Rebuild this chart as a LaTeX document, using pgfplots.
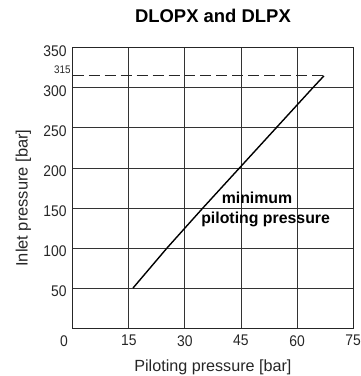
\documentclass[border=0pt]{standalone}
\usepackage{fontspec}
\setmainfont{Liberation Sans}
\newfontfamily\tickfont{Liberation Sans}[FakeStretch=0.9]
\usepackage{pgfplots}
\pgfplotsset{compat=1.18}

\begin{document}
\begin{tikzpicture}[x=1pt,y=1pt]
\useasboundingbox (-73,-48) rectangle (288,329);
\begin{axis}[
  at={(0,0)}, anchor=south west,
  scale only axis, width=281pt, height=281pt,
  xmin=0, xmax=75, ymin=0, ymax=350,
  xtick={0,15,30,45,60,75},
  xticklabels={\llap{0\hspace{5pt}},15,30,45,60,75},
  ytick={50,100,150,200,250,300,350},
  grid=major,
  grid style={line width=0.9pt, black!80},
  axis line style={line width=1pt, black!85},
  major tick length=0pt,
  tick label style={font=\tickfont\fontsize{15.5}{16}\selectfont, text=black!85},
  /pgf/number format/assume math mode=true,
  xticklabel style={inner sep=0pt, anchor=north, yshift=-7pt},
  yticklabel style={inner sep=0pt, anchor=east, xshift=-6pt, yshift=-3pt},
  title={DLOPX and DLPX},
  title style={at={(axis description cs:0.5,1.0676)}, anchor=base,
    font=\bfseries\fontsize{18.5}{20}\selectfont},
  xlabel={Piloting pressure [bar]},
  xlabel style={at={(axis description cs:0.5,-0.153)}, anchor=base,
    font=\fontsize{16.2}{18}\selectfont, text=black!85},
  ylabel={Inlet pressure [bar]},
  ylabel style={at={(axis description cs:-0.161,0.464)}, anchor=base,
    font=\fontsize{16.5}{18}\selectfont, text=black!85},
  clip=false,
]
% maximum inlet pressure
\addplot[line width=1pt, black!85, dash pattern=on 11pt off 5pt]
  coordinates {(0,315) (67.2,315)};
% minimum piloting pressure curve
\addplot[line width=1.4pt, black] coordinates {
  (16.1,50) (25.2,100) (34.8,150) (44.6,200) (54.4,250) (64.2,300) (67.2,315)
};
\node[anchor=base east, inner sep=0pt, font=\tickfont\fontsize{11}{12}\selectfont, text=black!85]
  at (axis cs:0,315) [xshift=-2pt, yshift=2.5pt] {315};
\node[anchor=base, inner sep=0pt, font=\bfseries\fontsize{15.9}{18}\selectfont]
  at (axis cs:49.3,156) {minimum};
\node[anchor=base, inner sep=0pt, font=\bfseries\fontsize{15.9}{18}\selectfont]
  at (axis cs:51.6,131.1) {piloting pressure};
\end{axis}
\end{tikzpicture}
\end{document}
